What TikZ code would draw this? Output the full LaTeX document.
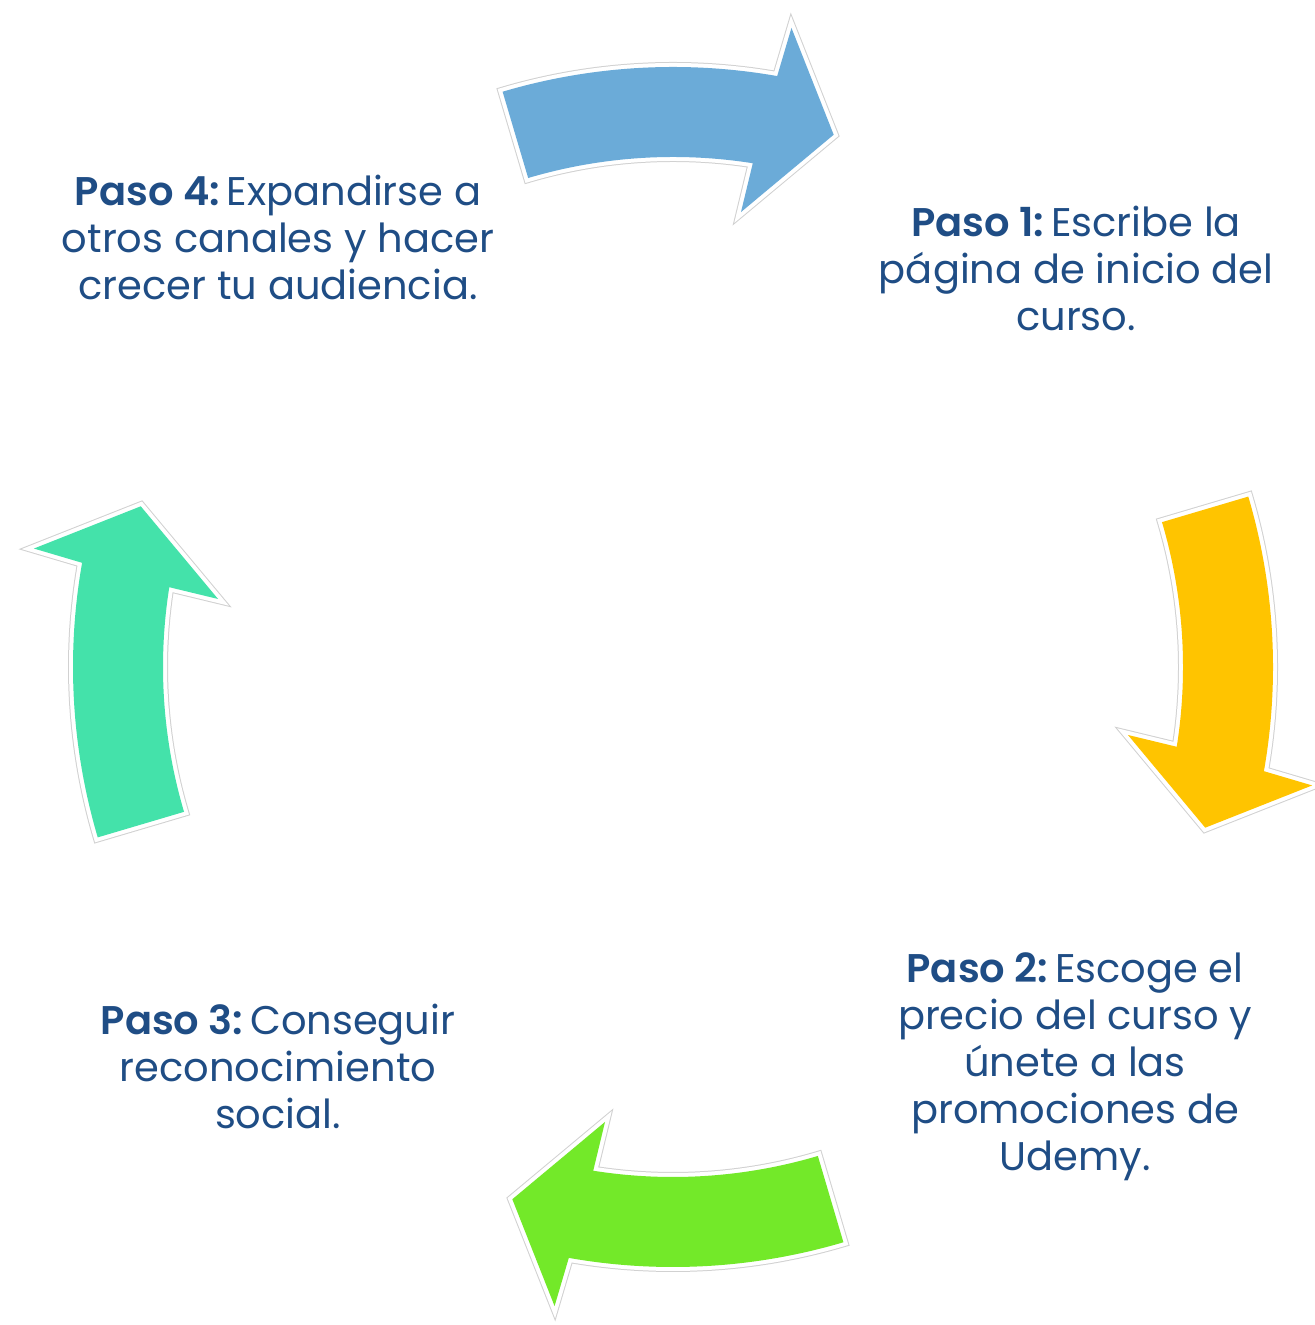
\documentclass[tikz,border=0pt]{standalone}
\usepackage{fontspec}
\setmainfont{Poppins}[BoldFont={Poppins SemiBold}]
\definecolor{txtblue}{RGB}{31,77,133}
\definecolor{arblue}{RGB}{107,171,216}
\definecolor{aryellow}{RGB}{255,196,0}
\definecolor{argreen}{RGB}{115,233,41}
\definecolor{arteal}{RGB}{68,226,170}
\newcommand\bigarrow[2]{%
 \pgfmathsetmacro\aA{106.5+#1}%
 \pgfmathsetmacro\aB{80+#1}%
 \pgfmathsetmacro\aC{79.5+#1}%
 \pgfmathsetmacro\aD{73.2+#1}%
 \pgfmathsetmacro\aE{81.5+#1}%
 \pgfmathsetmacro\aF{81+#1}%
 \def\thepath{([shift={(\aA:300pt)}]C) arc[start angle=\aA, end angle=\aB, radius=300pt] -- ([shift={(\aC:325pt)}]C) -- ([shift={(\aD:278pt)}]C) -- ([shift={(\aE:230pt)}]C) -- ([shift={(\aF:255pt)}]C) arc[start angle=\aF, end angle=\aA, radius=255pt] -- cycle}%
 \path[arrowrim] \thepath;
 \path[arrowhalo] \thepath;
 \path[fill=#2] \thepath;
}
\tikzset{
 arrowrim/.style={draw=black!18, line width=5pt, line join=miter},
 arrowhalo/.style={draw=white, line width=4pt, line join=miter},
 steptext/.style={align=center, text=txtblue, inner sep=0pt, font=\fontsize{20}{23.5}\selectfont}
}
\begin{document}
\begin{tikzpicture}[x=0.5pt,y=0.5pt]
\useasboundingbox (0,0) rectangle (1314,1325);
\fill[white] (0,0) rectangle (1314,1325);
\coordinate (C) at (673,658);
\bigarrow{0}{arblue}
\bigarrow{-90}{aryellow}
\bigarrow{-180}{argreen}
\bigarrow{-270}{arteal}
\node[steptext] (p4) at (278,1088) {\textbf{Paso 4:}\,Expandirse a\\otros canales y hacer\\crecer tu audiencia.};
\node[steptext] (p1) at (1076,1057) {\textbf{Paso 1:}\,Escribe la\\página de inicio del\\curso.};
\node[steptext] (p2) at (1075,258) {\textbf{Paso 2:}\,Escoge el\\precio del curso y\\únete a las\\promociones de\\Udemy.};
\node[steptext] (p3) at (278,259) {\textbf{Paso 3:}\,Conseguir\\reconocimiento\\social.};
\end{tikzpicture}
\end{document}
